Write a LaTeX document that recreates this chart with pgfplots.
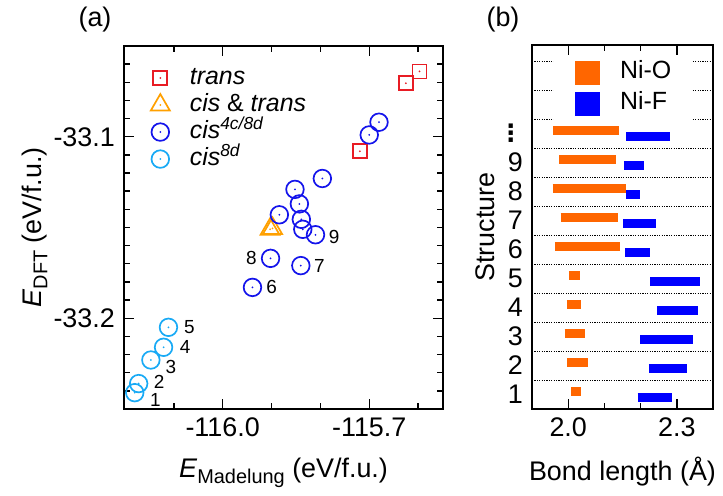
\documentclass[border=0pt]{standalone}
\usepackage{fontspec}
\setmainfont{Liberation Sans}
\newfontfamily\dejavu{DejaVu Sans}
\usepackage{pgfplots}
\pgfplotsset{compat=1.18}
\usepackage{pgfplotstable}

\definecolor{cTrans}{RGB}{232,28,36}
\definecolor{cBoth}{RGB}{255,160,0}
\definecolor{cCis}{RGB}{20,20,235}
\definecolor{cCisL}{RGB}{25,170,245}
\definecolor{cNiO}{RGB}{255,102,0}
\definecolor{cNiF}{RGB}{0,0,255}

\pgfdeclareplotmark{odot}{%
  \pgfpathcircle{\pgfpointorigin}{\pgfplotmarksize}%
  \pgfusepathqstroke
  \pgfpathcircle{\pgfpointorigin}{1bp}%
  \pgfusepathqfill}
\pgfdeclareplotmark{sqdot}{%
  \pgfpathmoveto{\pgfqpoint{-\pgfplotmarksize}{-\pgfplotmarksize}}%
  \pgfpathlineto{\pgfqpoint{\pgfplotmarksize}{-\pgfplotmarksize}}%
  \pgfpathlineto{\pgfqpoint{\pgfplotmarksize}{\pgfplotmarksize}}%
  \pgfpathlineto{\pgfqpoint{-\pgfplotmarksize}{\pgfplotmarksize}}%
  \pgfpathclose
  \pgfusepathqstroke
  \pgfpathcircle{\pgfpointorigin}{1bp}%
  \pgfusepathqfill}
\pgfdeclareplotmark{tridot}{%
  \pgfpathmoveto{\pgfqpointpolar{90}{\pgfplotmarksize}}%
  \pgfpathlineto{\pgfqpointpolar{210}{\pgfplotmarksize}}%
  \pgfpathlineto{\pgfqpointpolar{330}{\pgfplotmarksize}}%
  \pgfpathclose
  \pgfusepathqstroke
  \pgfpathcircle{\pgfpointorigin}{1bp}%
  \pgfusepathqfill}

% panel (a) data
\pgfplotstableread{
x y
-115.719 -33.108
-115.625 -33.0705
-115.597 -33.064
}\transdata
\pgfplotstableread{
x y
-115.903 -33.1510
-115.898 -33.1505
}\bothdata
\pgfplotstableread{
x y
-115.680 -33.092
-115.700 -33.099
-115.796 -33.123
-115.852 -33.129
-115.843 -33.137
-115.884 -33.143
-115.839 -33.1455
-115.836 -33.151
-115.810 -33.154
-115.902 -33.167
-115.840 -33.171
-115.939 -33.183
}\cisdata
\pgfplotstableread{
x y
-116.111 -33.205
-116.121 -33.216
-116.147 -33.223
-116.172 -33.236
-116.180 -33.241
}\cisLdata

% panel (b) data: each bar = start row, end row, gap
\pgfplotstableread{
x y
1.958 10.1
2.141 10.1
nan nan
1.975 9.1
2.131 9.1
nan nan
1.957 8.1
2.159 8.1
nan nan
1.979 7.1
2.138 7.1
nan nan
1.963 6.1
2.143 6.1
nan nan
2.002 5.1
2.033 5.1
nan nan
1.996 4.1
2.035 4.1
nan nan
1.990 3.1
2.046 3.1
nan nan
1.996 2.1
2.055 2.1
nan nan
2.008 1.1
2.036 1.1
}\NiOdata
\pgfplotstableread{
x y
2.160 9.9
2.280 9.9
nan nan
2.154 8.9
2.208 8.9
nan nan
2.159 7.9
2.199 7.9
nan nan
2.152 6.9
2.242 6.9
nan nan
2.158 5.9
2.225 5.9
nan nan
2.227 4.9
2.365 4.9
nan nan
2.246 3.9
2.358 3.9
nan nan
2.199 2.9
2.345 2.9
nan nan
2.223 1.9
2.327 1.9
nan nan
2.192 0.9
2.288 0.9
}\NiFdata

\begin{document}
\fontsize{27}{32}\selectfont
\begin{tikzpicture}
\useasboundingbox (0bp,0bp) rectangle (723bp,496bp);
\node at (95bp,476bp) {(a)};
\node at (503bp,476bp) {(b)};

\begin{axis}[
  at={(124bp,87bp)}, anchor=south west, scale only axis,
  width=319bp, height=363bp,
  xmin=-116.202, xmax=-115.549, ymin=-33.25, ymax=-33.05,
  xtick={-116.0,-115.7}, xticklabels={-116.0,-115.7},
  minor xtick={-116.1,-115.9,-115.8,-115.6},
  ytick={-33.2,-33.1}, yticklabels={-33.2,-33.1},
  minor ytick={-33.24,-33.23,-33.22,-33.21,-33.19,-33.18,-33.17,-33.16,-33.15,-33.14,-33.13,-33.12,-33.11,-33.09,-33.08,-33.07,-33.06},
  major tick length=10bp, minor tick length=6bp,
  tick style={line width=1.4bp, black},
  axis line style={line width=1.6bp},
  xlabel={\textit{E}\raisebox{-0.22em}{\fontsize{20}{22}\selectfont Madelung} (eV/f.u.)},
  ylabel={\textit{E}\raisebox{-0.22em}{\fontsize{20}{22}\selectfont DFT} (eV/f.u.)},
  xlabel style={at={(axis description cs:0.5,-0.175)}, anchor=center},
  ylabel style={at={(axis description cs:-0.28,0.5)}, anchor=center},
  legend style={draw=none, fill=none, at={(axis description cs:0.074,0.948)}, anchor=north west,
    font=\fontsize{25}{28}\selectfont, row sep=5bp,
    nodes={inner sep=0pt, text height=17bp, text depth=5bp},
    /tikz/every odd column/.append style={column sep=20bp}},
  legend cell align=left,
]
\addplot[only marks, mark=sqdot, mark size=7bp, draw=cTrans, fill=cTrans, line width=1.7bp] table {\transdata};
\addlegendentry{\textit{trans}}
\addplot[only marks, mark=tridot, mark size=11bp, draw=cBoth, fill=cBoth, line width=1.7bp] table {\bothdata};
\addlegendentry{\textit{cis} \& \textit{trans}}
\addplot[only marks, mark=odot, mark size=8.8bp, draw=cCis, fill=cCis, line width=1.7bp] table {\cisdata};
\addlegendentry{\textit{cis}\textsuperscript{\textit{4c/8d}}}
\addplot[only marks, mark=odot, mark size=8.8bp, draw=cCisL, fill=cCisL, line width=1.7bp] table {\cisLdata};
\addlegendentry{\textit{cis}\textsuperscript{\textit{8d}}}

\begin{scope}[font=\fontsize{19}{22}\selectfont]
\node at (axis cs:-116.138,-33.245) {1};
\node at (axis cs:-116.130,-33.235) {2};
\node at (axis cs:-116.106,-33.227) {3};
\node at (axis cs:-116.077,-33.216) {4};
\node at (axis cs:-116.068,-33.205) {5};
\node at (axis cs:-115.900,-33.183) {6};
\node at (axis cs:-115.802,-33.171) {7};
\node at (axis cs:-115.941,-33.167) {8};
\node at (axis cs:-115.772,-33.155) {9};
\end{scope}
\end{axis}

\begin{axis}[
  at={(532bp,87bp)}, anchor=south west, scale only axis,
  width=181bp, height=364bp,
  xmin=1.9, xmax=2.4, ymin=0.5, ymax=13.05,
  xtick={2.0,2.3}, xticklabels={2.0,2.3}, minor xtick={2.1,2.2},
  ytick={1,2,3,4,5,6,7,8,9,10}, yticklabels={1,2,3,4,5,6,7,8,9,{\dejavu\bfseries\fontsize{24}{26}\selectfont ⋮}},
  ytick style={draw=none},
  extra y ticks={1.5,2.5,3.5,4.5,5.5,6.5,7.5,8.5,9.5,10.5,11.5,12.5},
  extra y tick labels={},
  extra y tick style={grid=major, major tick length=0pt,
    major grid style={draw=black, line width=0.8bp, dash pattern=on 1.2bp off 1.2bp}},
  major tick length=10bp, minor tick length=6bp,
  tick style={line width=1.4bp, black},
  axis line style={line width=1.6bp},
  unbounded coords=jump,
  xlabel={Bond length (Å)},
  ylabel={Structure},
  xlabel style={at={(axis description cs:0.5,-0.173)}, anchor=center},
  ylabel style={at={(axis description cs:-0.26,0.5)}, anchor=center},
  legend style={draw=none, fill=white, at={(axis description cs:0.503,0.971)}, anchor=north,
    font=\fontsize{25}{28}\selectfont, row sep=6.5bp, inner xsep=21bp, inner ysep=5bp,
    nodes={inner sep=0pt, text height=17bp, text depth=5bp},
    /tikz/every odd column/.append style={column sep=20bp}},
  legend cell align=left,
  legend image code/.code={\fill[#1] (0bp,-7.5bp) rectangle (16bp,7.5bp);},
]
\addplot[color=cNiO, line width=9.3bp, mark=none] table {\NiOdata};
\addlegendentry{Ni-O}
\addplot[color=cNiF, line width=9.3bp, mark=none] table {\NiFdata};
\addlegendentry{Ni-F}
\end{axis}
\end{tikzpicture}
\end{document}
